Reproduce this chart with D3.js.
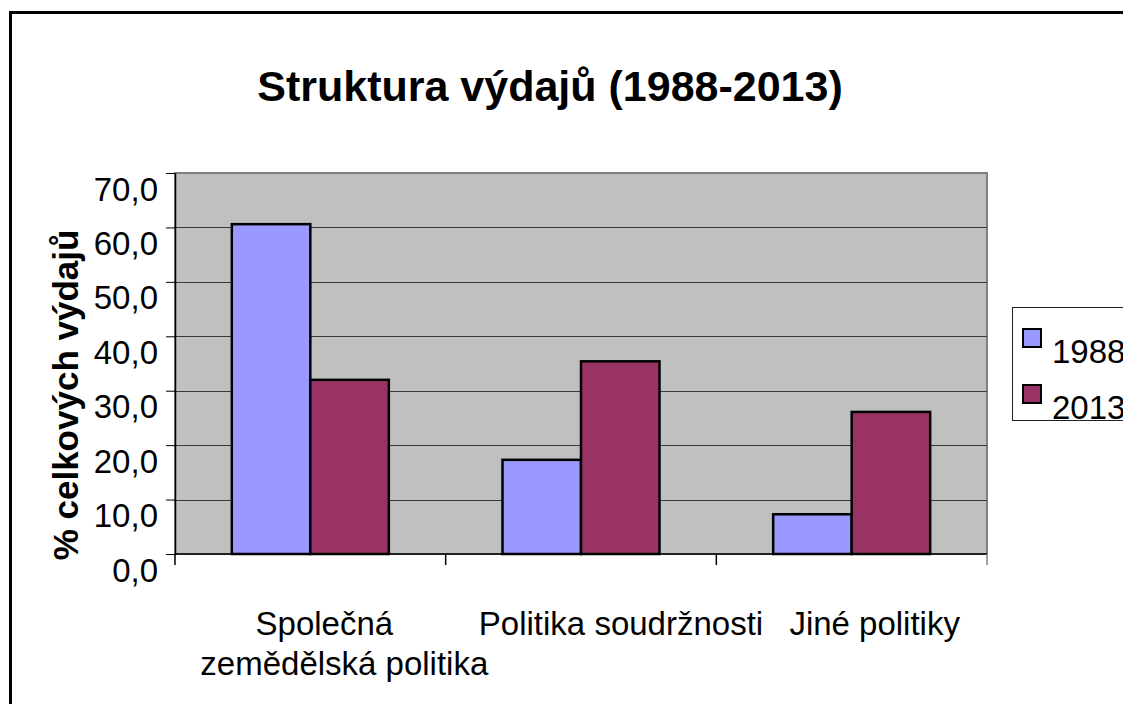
<!DOCTYPE html>
<html>
<head>
<meta charset="utf-8">
<script src="https://cdn.jsdelivr.net/npm/d3@7"></script>
<style>
  body { margin: 0; background: #fff; }
  svg text { font-family: "Liberation Sans", Arial, sans-serif; fill: #000; }
</style>
</head>
<body>
<div id="chart"></div>
<script>
// data
var categories = ["Společná zemědělská politika", "Politika soudržnosti", "Jiné politiky"];
var categoryLines = [["Společná", "zemědělská politika"], ["Politika soudržnosti"], ["Jiné politiky"]];
var seriesNames = ["1988", "2013"];
var values1988 = [60.6, 17.3, 7.3];
var values2013 = [32.0, 35.4, 26.1];
var yTicks = [0, 10, 20, 30, 40, 50, 60, 70];

var colors = {"1988": "#9999ff", "2013": "#993366"};

var W = 1123, H = 704;
var plot = {left: 175, right: 987, top: 173, bottom: 554};

var svg = d3.select("#chart").append("svg")
  .attr("width", W)
  .attr("height", H);

// outer chart frame (runs off the right and bottom edge)
svg.append("rect")
  .attr("x", 10.5).attr("y", 12.5)
  .attr("width", 1300).attr("height", 900)
  .attr("fill", "#fff")
  .attr("stroke", "#000")
  .attr("stroke-width", 3);

// title
svg.append("text")
  .attr("x", 550).attr("y", 101)
  .attr("text-anchor", "middle")
  .style("font-size", "43px")
  .style("font-weight", "bold")
  .text("Struktura výdajů (1988-2013)");

var x0 = d3.scaleBand()
  .domain(categories)
  .range([plot.left, plot.right])
  .padding(0);

var x1 = d3.scaleBand()
  .domain(seriesNames)
  .range([0, x0.bandwidth()])
  .paddingInner(0)
  .paddingOuter(0.724);

var y = d3.scaleLinear()
  .domain([0, 70])
  .range([plot.bottom, plot.top]);

// plot background
svg.append("rect")
  .attr("x", plot.left).attr("y", plot.top)
  .attr("width", plot.right - plot.left)
  .attr("height", plot.bottom - plot.top)
  .attr("fill", "#c0c0c0")
  .attr("stroke", "#808080")
  .attr("stroke-width", 2);

// gridlines
svg.append("g")
  .selectAll("line")
  .data(yTicks.filter(function(d) { return d > 0 && d < 70; }))
  .enter().append("line")
  .attr("x1", plot.left).attr("x2", plot.right)
  .attr("y1", function(d) { return Math.round(y(d)) + 0.5; })
  .attr("y2", function(d) { return Math.round(y(d)) + 0.5; })
  .attr("stroke", "#3a3a3a")
  .attr("stroke-width", 1);

// bars
var rows = categories.map(function(c, i) {
  return {cat: c, vals: [{s: "1988", v: values1988[i]}, {s: "2013", v: values2013[i]}]};
});

var groups = svg.append("g").selectAll("g")
  .data(rows)
  .enter().append("g")
  .attr("transform", function(d) { return "translate(" + x0(d.cat) + ",0)"; });

groups.selectAll("rect")
  .data(function(d) { return d.vals; })
  .enter().append("rect")
  .attr("x", function(d) { return x1(d.s); })
  .attr("y", function(d) { return y(d.v); })
  .attr("width", x1.bandwidth())
  .attr("height", function(d) { return plot.bottom - y(d.v); })
  .attr("fill", function(d) { return colors[d.s]; })
  .attr("stroke", "#000")
  .attr("stroke-width", 2.5);

// y axis
var fmt = d3.format(".1f");
var yAxis = svg.append("g")
  .attr("transform", "translate(" + plot.left + ",0)")
  .call(d3.axisLeft(y)
    .tickValues(yTicks)
    .tickSize(9)
    .tickSizeOuter(0)
    .tickFormat(function(d) { return fmt(d).replace(".", ","); }));
yAxis.select(".domain").attr("stroke", "#000").attr("stroke-width", 1.5);
yAxis.selectAll(".tick line").attr("stroke", "#000");
yAxis.selectAll(".tick text")
  .attr("x", -17)
  .attr("dy", "0.82em")
  .style("font-size", "33px")
  .style("font-family", "'Liberation Sans', Arial, sans-serif")
  .attr("fill", "#000");

// x axis
var xAxis = svg.append("g")
  .attr("transform", "translate(0," + plot.bottom + ")");
xAxis.append("line")
  .attr("x1", plot.left).attr("x2", plot.right)
  .attr("y1", 0).attr("y2", 0)
  .attr("stroke", "#000").attr("stroke-width", 1.5);
var boundaries = categories.map(function(c) { return x0(c); }).concat([plot.right]);
xAxis.selectAll("line.tick")
  .data(boundaries)
  .enter().append("line")
  .attr("class", "tick")
  .attr("x1", function(d) { return d; }).attr("x2", function(d) { return d; })
  .attr("y1", 0).attr("y2", 11)
  .attr("stroke", function(d, i) { return i === boundaries.length - 1 ? "#808080" : "#000"; })
  .attr("stroke-width", 1.5);

// category labels (Excel-style wrapped, slightly right of band centre)
var labelShift = [[14, 34], [40], [23]];
categories.forEach(function(c, i) {
  categoryLines[i].forEach(function(line, j) {
    svg.append("text")
      .attr("x", x0(c) + x0.bandwidth() / 2 + labelShift[i][j])
      .attr("y", 635 + j * 40)
      .attr("text-anchor", "middle")
      .style("font-size", "33px")
      .text(line);
  });
});

// y axis title
svg.append("text")
  .attr("transform", "translate(78," + 395 + ") rotate(-90)")
  .attr("text-anchor", "middle")
  .style("font-size", "35px")
  .style("font-weight", "bold")
  .text("% celkových výdajů");

// legend (cut off by the right edge, as in the original)
var legend = svg.append("g");
legend.append("rect")
  .attr("x", 1012.5).attr("y", 307.5)
  .attr("width", 200).attr("height", 113)
  .attr("fill", "#fff")
  .attr("stroke", "#222")
  .attr("stroke-width", 1);

var item = legend.selectAll("g.item")
  .data(seriesNames)
  .enter().append("g")
  .attr("class", "item")
  .attr("transform", function(d, i) { return "translate(1023," + (329 + i * 56) + ")"; });
item.append("rect")
  .attr("width", 18).attr("height", 18)
  .attr("fill", function(d) { return colors[d]; })
  .attr("stroke", "#000")
  .attr("stroke-width", 2);
item.append("text")
  .attr("x", 29).attr("y", 34)
  .style("font-size", "33px")
  .text(function(d) { return d; });
</script>
</body>
</html>
